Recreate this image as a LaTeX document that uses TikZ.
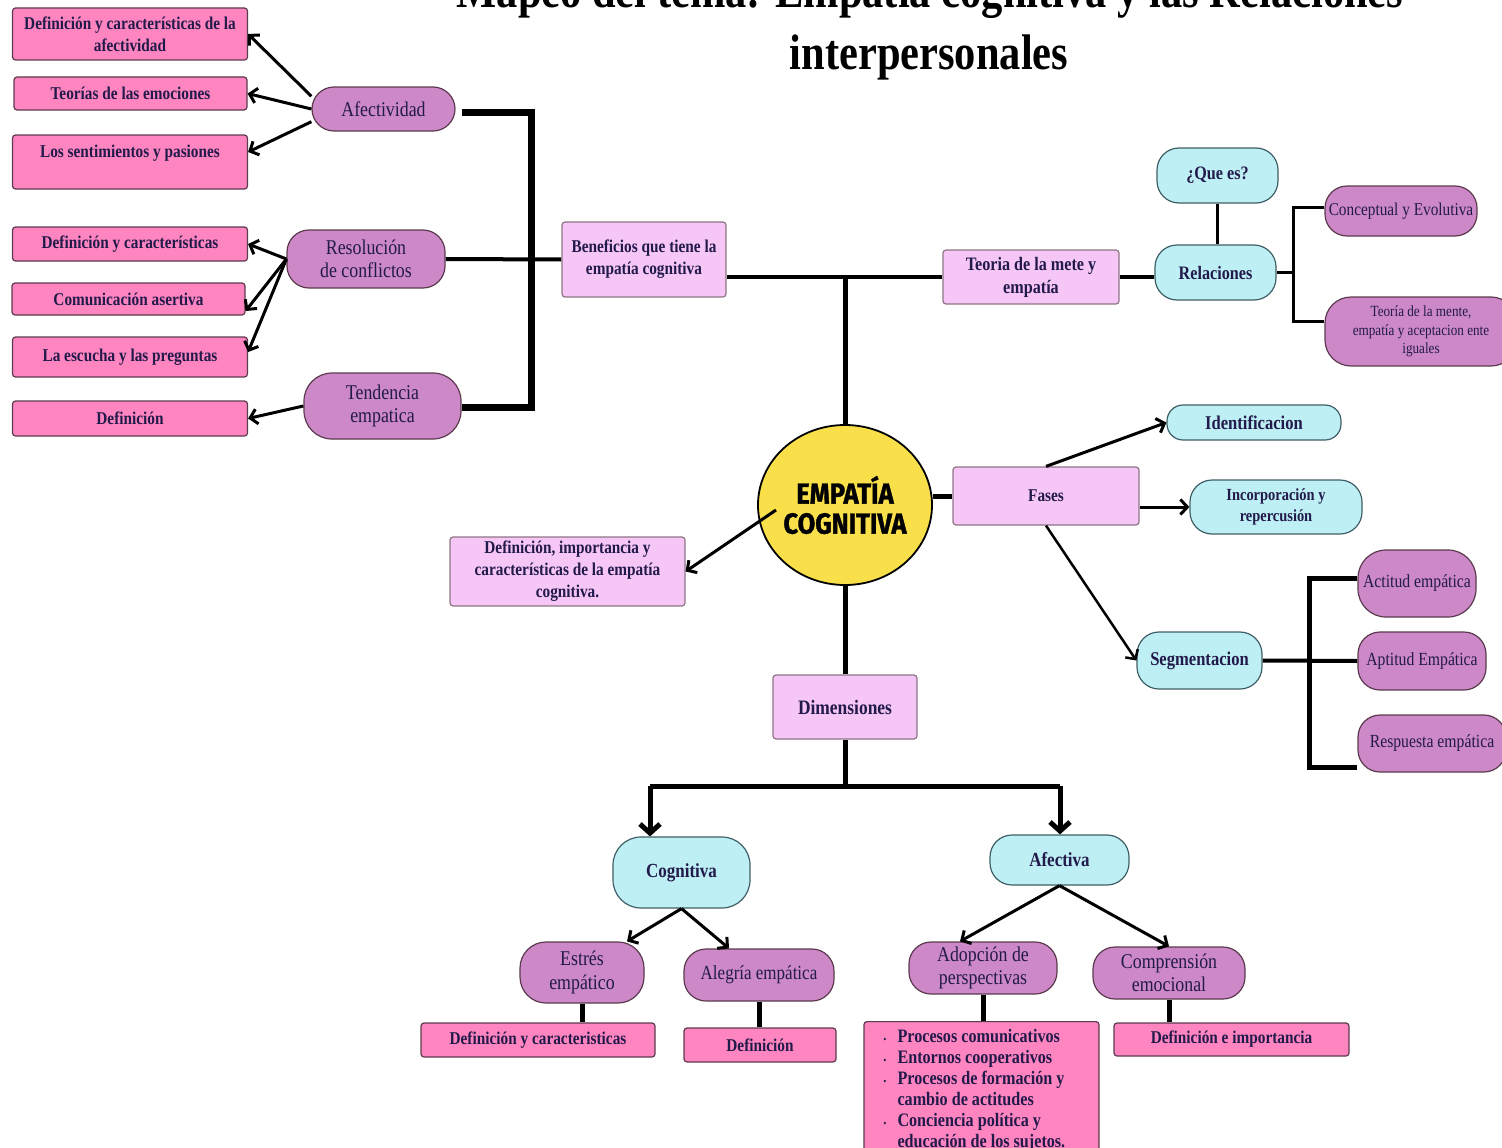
\documentclass[tikz,border=0pt]{standalone}
\usepackage{fontspec}
\setmainfont[FakeStretch=0.85]{Liberation Serif}
\newfontfamily\empfont[FakeStretch=0.88,FakeBold=1.2]{Fira Sans}
\usetikzlibrary{arrows.meta,shapes.geometric,backgrounds}

\definecolor{hotpink}{HTML}{FF85C1}
\definecolor{lila}{HTML}{F6C6F7}
\definecolor{orchid}{HTML}{CC88C7}
\definecolor{skyfill}{HTML}{BDEFF5}
\definecolor{sun}{HTML}{F9E04A}
\definecolor{navy}{HTML}{221A4A}
\definecolor{boxline}{HTML}{5C3A4E}
\definecolor{skyline}{HTML}{3F5F66}

\newcommand{\bul}{\makebox[14pt][l]{\fontsize{9}{9}\selectfont\textbullet}}

\tikzset{
	mapnode/.style = {inner sep=2pt, align=center, text=navy},
	pinkbox/.style = {mapnode, draw=boxline, fill=hotpink, line width=1.2pt, rounded corners=3pt, font=\bfseries\fontsize{18}{22}\selectfont},
	lilabox/.style = {pinkbox, fill=lila, draw=boxline!70},
	orchidpill/.style = {mapnode, draw=boxline, fill=orchid, line width=1.2pt, rounded corners=22pt, font=\fontsize{21}{23.5}\selectfont},
	skypill/.style = {mapnode, draw=skyline, fill=skyfill, line width=1.2pt, rounded corners=22pt, font=\bfseries\fontsize{19.5}{22}\selectfont},
	link/.style = {line width=4pt},
	arrowlink/.style = {line width=3pt, -{Straight Barb[length=7pt,width=15pt]}},
	bigarrow/.style = {line width=5pt, -{Straight Barb[length=9pt,width=20pt]}},
}

\begin{document}
\begin{tikzpicture}[x=1pt, y=-1pt]
	\useasboundingbox (0,0) rectangle (1502,1148);
	\clip (0,0) rectangle (1502,1148);

	% title
	\node[font=\bfseries\fontsize{50}{60}\selectfont, anchor=base, inner sep=0pt] (title1) at (930,8) {Mapeo del tema: Empatía cognitiva y las Relaciones};
	\node[font=\bfseries\fontsize{50}{60}\selectfont, anchor=base, inner sep=0pt] (title2) at (929,70) {interpersonales};

	% left side
	\node[pinkbox, minimum width=235pt, minimum height=52pt] (defafect) at (130,34) {Definición y características de la\\afectividad};
	\node[pinkbox, minimum width=233pt, minimum height=33pt] (teorias) at (130.5,93.5) {Teorías de las emociones};
	\node[pinkbox, minimum width=235pt, minimum height=54pt] (sent) at (130,162) {Los sentimientos y pasiones\\~};
	\node[pinkbox, minimum width=235pt, minimum height=34pt] (defcar) at (130,244) {Definición y características};
	\node[pinkbox, minimum width=233pt, minimum height=32pt] (comun) at (128.5,299) {Comunicación asertiva};
	\node[pinkbox, minimum width=235pt, minimum height=40pt] (escucha) at (130,357) {La escucha y las preguntas};
	\node[pinkbox, minimum width=235pt, minimum height=35pt] (defin) at (130,418.5) {Definición};

	\node[orchidpill, minimum width=143pt, minimum height=44pt] (afect) at (383.5,109) {Afectividad};
	\node[orchidpill, minimum width=158pt, minimum height=58pt] (resol) at (366,259) {Resolución\\de conflictos};
	\node[orchidpill, minimum width=157pt, minimum height=66pt, rounded corners=28pt] (tend) at (382.5,406) {Tendencia\\empatica};

	\node[lilabox, minimum width=164pt, minimum height=75pt] (benef) at (644,259.5) {Beneficios que tiene la\\empatía cognitiva};

	% center
	\node[ellipse, draw, line width=1.8pt, fill=sun, minimum width=166pt, minimum height=160pt, inner sep=0pt,
		font=\empfont\bfseries\fontsize{29}{30}\selectfont, align=center] (emp) at (845,505) {EMPATÍA\\COGNITIVA};
	\node[lilabox, minimum width=235pt, minimum height=69pt] (defimp) at (567.5,571.5) {Definición, importancia y\\características de la empatía\\cognitiva.};
	\node[lilabox, minimum width=144pt, minimum height=64pt, font=\bfseries\fontsize{20.5}{22}\selectfont] (dim) at (845,707) {Dimensiones};

	% upper right
	\node[lilabox, minimum width=176pt, minimum height=54pt, font=\bfseries\fontsize{19}{23}\selectfont] (teoria) at (1031,277) {Teoria de la mete y\\empatía};
	\node[skypill, minimum width=121pt, minimum height=55pt, font=\bfseries\fontsize{19}{22}\selectfont] (rel) at (1215.5,272.5) {Relaciones};
	\node[skypill, minimum width=121pt, minimum height=55pt, font=\bfseries\fontsize{19}{22}\selectfont] (queEs) at (1217.5,175.5) {¿Que es?};
	\node[orchidpill, minimum width=152pt, minimum height=50pt, font=\fontsize{18}{20}\selectfont] (concep) at (1401,211) {Conceptual y Evolutiva};
	\node[orchidpill, minimum width=192pt, minimum height=69pt, rounded corners=26pt, font=\fontsize{15.5}{18.5}\selectfont] (teomen) at (1421,331.5) {Teoría de la mente,\\empatía y aceptacion ente\\iguales};

	% fases
	\node[lilabox, minimum width=186pt, minimum height=58pt] (fases) at (1046,496) {Fases};
	\node[skypill, minimum width=174pt, minimum height=35pt, rounded corners=16pt] (ident) at (1254,422.5) {Identificacion};
	\node[skypill, minimum width=172pt, minimum height=54pt, font=\bfseries\fontsize{17}{21}\selectfont] (incorp) at (1276,507) {Incorporación y\\repercusión};
	\node[skypill, minimum width=125pt, minimum height=57pt] (segm) at (1199.5,660.5) {Segmentacion};
	\node[orchidpill, minimum width=118pt, minimum height=67pt, rounded corners=28pt, font=\fontsize{18.5}{21}\selectfont] (actitud) at (1417,583.5) {Actitud empática};
	\node[orchidpill, minimum width=128pt, minimum height=58pt, font=\fontsize{18.5}{21}\selectfont] (aptitud) at (1422,661) {Aptitud Empática};
	\node[orchidpill, minimum width=148pt, minimum height=57pt, font=\fontsize{18.5}{21}\selectfont] (respuesta) at (1432,743.5) {Respuesta empática};

	% dimensiones
	\node[skypill, minimum width=137pt, minimum height=71pt, rounded corners=28pt, font=\bfseries\fontsize{20}{22}\selectfont] (cog) at (681.5,872.5) {Cognitiva};
	\node[skypill, minimum width=139pt, minimum height=50pt, font=\bfseries\fontsize{20}{22}\selectfont] (afe) at (1059.5,860) {Afectiva};
	\node[orchidpill, minimum width=124pt, minimum height=61pt, rounded corners=26pt] (estres) at (582,972.5) {Estrés\\empático};
	\node[orchidpill, minimum width=150pt, minimum height=52pt, font=\fontsize{20}{22}\selectfont] (alegria) at (759,975) {Alegría empática};
	\node[orchidpill, minimum width=148pt, minimum height=52pt] (adop) at (983,968) {Adopción de\\perspectivas};
	\node[orchidpill, minimum width=152pt, minimum height=52pt] (compr) at (1169,973) {Comprensión\\emocional};
	\node[pinkbox, minimum width=234pt, minimum height=34pt] (defc2) at (538,1040) {Definición y caracteristicas};
	\node[pinkbox, minimum width=152pt, minimum height=34pt] (def2) at (760,1045) {Definición};
	\node[pinkbox, minimum width=235pt, minimum height=33pt] (defimp2) at (1231.5,1039.5) {Definición e importancia};
	\node[pinkbox, anchor=north, minimum width=235pt, minimum height=138pt, text width=196pt, align=flush left, inner ysep=2.5pt,
		font=\bfseries\fontsize{19}{21}\selectfont] (lista) at (981.5,1021)
		{\bul Procesos comunicativos\\ \bul Entornos cooperativos\\ \bul Procesos de formación y\\ \hspace*{14pt}cambio de actitudes\\ \bul Conciencia política y\\ \hspace*{14pt}educación de los sujetos.};

	\coordinate (brtop) at (531,112);
	\coordinate (brbot) at (531,407);
	\coordinate (trunk) at (845,277);
	\coordinate (reltop) at (1293,207);
	\coordinate (relbot) at (1293,321);
	\coordinate (segtop) at (1309,578);
	\coordinate (segbot) at (1309,767);
	\coordinate (dimj) at (845,786);
	\coordinate (cogj) at (650,786);
	\coordinate (afej) at (1060,786);
	\coordinate (empin) at (776,510);

	\begin{scope}[on background layer]
		\draw[line width=7pt, shorten <=6pt] (afect.east |- brtop) -- (brtop) -- (brbot) -- (tend.east |- brbot);
		\draw[link] (resol.east) -- (benef.west);
		\draw[link] (benef.east |- teoria.west) -- (teoria.west);
		\draw[line width=5pt] (trunk) -- (emp.north);
		\draw[line width=5pt] (emp.south) -- (dim.north);
		\draw[line width=5pt] (dim.south) -- (dimj);
		\draw[line width=5pt] (cogj) -- (afej);
		\draw[link] (teoria.east) -- (teoria.east -| rel.west);
		\draw[line width=3pt] (queEs.south) -- (queEs.south |- rel.north);
		\draw[line width=3pt] (rel.east) -- (rel.east -| reltop);
		\draw[line width=3pt] (concep.west |- reltop) -- (reltop) -- (relbot) -- (teomen.west |- relbot);
		\draw[line width=5pt] (fases.west -| emp.east) -- (fases.west);
		\draw[link] (segm.east) -- (aptitud.west);
		\draw[line width=5pt] (actitud.west |- segtop) -- (segtop) -- (segbot) -- (respuesta.west |- segbot);
		\draw[line width=5pt] (estres.south) -- (estres.south |- defc2.north);
		\draw[line width=5pt] (alegria.south) -- (alegria.south |- def2.north);
		\draw[line width=5pt] (adop.south) -- (adop.south |- lista.north);
		\draw[line width=5pt] (compr.south) -- (compr.south |- defimp2.north);
	\end{scope}

	\draw[arrowlink] (afect.170) -- (defafect.east);
	\draw[arrowlink] (afect.west) -- (teorias.east);
	\draw[arrowlink] (afect.190) -- ([yshift=10pt]sent.east);
	\draw[arrowlink] (resol.west) -- (defcar.east);
	\draw[arrowlink] (resol.west) -- ([yshift=-12pt]comun.east);
	\draw[arrowlink] (resol.west) -- ([yshift=5pt]escucha.east);
	\draw[arrowlink] (tend.west) -- (defin.east);
	\draw[arrowlink] (empin) -- (defimp.east);
	\draw[arrowlink] (fases.north) -- (ident.west);
	\draw[arrowlink] (fases.east |- incorp.west) -- (incorp.west);
	\draw[arrowlink, line width=2.5pt] (fases.south) -- (segm.west);
	\draw[bigarrow] (cogj) -- (cogj |- cog.north);
	\draw[bigarrow] (afej) -- (afej |- afe.north);
	\draw[arrowlink] (cog.south) -- ([xshift=45pt]estres.north);
	\draw[arrowlink] (cog.south) -- ([xshift=-30pt]alegria.north);
	\draw[arrowlink] (afe.south) -- ([xshift=-23pt]adop.north);
	\draw[arrowlink] (afe.south) -- (compr.north);
\end{tikzpicture}
\end{document}
